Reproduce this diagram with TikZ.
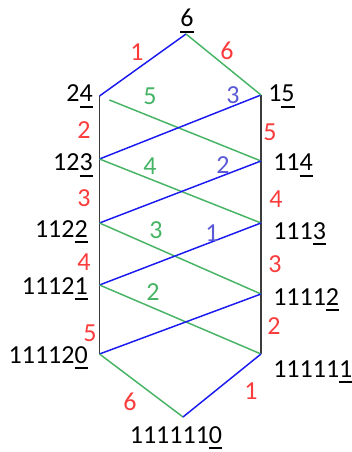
\documentclass[tikz,border=0pt]{standalone}
\usepackage{fontspec}
\setmainfont{Carlito}
\usepackage{xcolor}
\usetikzlibrary{positioning}

\definecolor{ered}{RGB}{250,60,60}
\definecolor{egreen}{RGB}{70,180,100}
\definecolor{eblue}{RGB}{25,25,240}
\definecolor{lblue}{RGB}{90,90,215}
\definecolor{edark}{RGB}{60,60,60}

%% underlined last digit
\newcommand{\ud}[1]{\setbox0\hbox{#1}\rlap{\rule[-4.2pt]{\wd0}{1.3pt}}#1}

\tikzset{
  %% vertex label
  vlab/.style={font=\fontsize{19.5pt}{23pt}\selectfont, inner sep=0pt},
  %% edge number
  elab/.style={font=\fontsize{19.5pt}{23pt}\selectfont, text=#1, inner sep=0pt},
  elab/.default=ered,
  %% edges
  bedge/.style={draw=eblue, line width=1.1pt},
  gedge/.style={draw=egreen, line width=1.1pt},
  kedge/.style={draw=edark, line width=1.4pt},
}

\begin{document}
\begin{tikzpicture}[x=0.75pt, y=-0.75pt]
  \useasboundingbox (0,0) rectangle (351,452);

  %% vertices
  \coordinate (t) at (186,34);
  \coordinate (L1) at (99.5,96);
  \coordinate (L2) at (99.5,159);
  \coordinate (L3) at (99.5,223);
  \coordinate (L4) at (99.5,285);
  \coordinate (L5) at (99.5,354);
  \coordinate (R1) at (261,95);
  \coordinate (R2) at (261,161);
  \coordinate (R3) at (261,223);
  \coordinate (R4) at (261,294);
  \coordinate (R5) at (261,354);
  \coordinate (b) at (183,417);

  %% sides
  \draw[kedge] (L1) -- (L2) -- (L3) -- (L4) -- (L5);
  \draw[kedge] (R1) -- (R2) -- (R3) -- (R4) -- (R5);

  %% crossings
  \draw[gedge, shorten <=8pt] (L1) -- (R2);
  \draw[bedge] (L2) -- (R1);
  \draw[gedge] (L2) -- (R3);
  \draw[bedge] (L3) -- (R2);
  \draw[gedge] (L3) -- (R4);
  \draw[bedge] (L4) -- (R3);
  \draw[gedge] (L4) -- (R5);
  \draw[bedge] (L5) -- (R4);

  %% top and bottom
  \draw[bedge] (t) -- (L1);
  \draw[gedge] (t) -- (R1);
  \draw[gedge] (L5) -- (b);
  \draw[bedge] (R5) -- (b);

  %% vertex labels
  \node[vlab, anchor=base] (n6) at (187,27) {\ud{6}};
  \node[vlab, anchor=base east] (n24) at (93,102) {2\ud{4}};
  \node[vlab, anchor=base west] (n15) at (268,102) {1\ud{5}};
  \node[vlab, anchor=base east] (n123) at (93,171) {12\ud{3}};
  \node[vlab, anchor=base west] (n114) at (273,171) {11\ud{4}};
  \node[vlab, anchor=base east] (n1122) at (88,237) {112\ud{2}};
  \node[vlab, anchor=base west] (n1113) at (273,239) {111\ud{3}};
  \node[vlab, anchor=base east] (n11121) at (88,294) {1112\ud{1}};
  \node[vlab, anchor=base west] (n11112) at (273,305) {1111\ud{2}};
  \node[vlab, anchor=base east] (n111120) at (88,363) {11112\ud{0}};
  \node[vlab, anchor=base west] (n111111) at (273,377) {11111\ud{1}};
  \node[vlab, anchor=base] (n1111110) at (176,443) {111111\ud{0}};

  %% edge numbers
  \node[elab] (e-tl) at (137,52) {1};
  \node[elab] (e-tr) at (227,51) {6};
  \node[elab] (e-l1) at (84,130) {2};
  \node[elab] (e-l2) at (84,198) {3};
  \node[elab] (e-l3) at (84,262) {4};
  \node[elab] (e-l4) at (90,333) {5};
  \node[elab] (e-r1) at (270,132) {5};
  \node[elab] (e-r2) at (276,199) {4};
  \node[elab] (e-r3) at (275,264) {3};
  \node[elab] (e-r4) at (274,326) {2};
  \node[elab] (e-bl) at (130,402) {6};
  \node[elab] (e-br) at (251,391) {1};
  \node[elab=egreen] (e-g1) at (150,96) {5};
  \node[elab=egreen] (e-g2) at (150,166) {4};
  \node[elab=egreen] (e-g3) at (156,230) {3};
  \node[elab=egreen] (e-g4) at (153,292) {2};
  \node[elab=lblue] (e-b1) at (233,95) {3};
  \node[elab=lblue] (e-b2) at (223,165) {2};
  \node[elab=lblue] (e-b3) at (212,233) {1};

\end{tikzpicture}
\end{document}
